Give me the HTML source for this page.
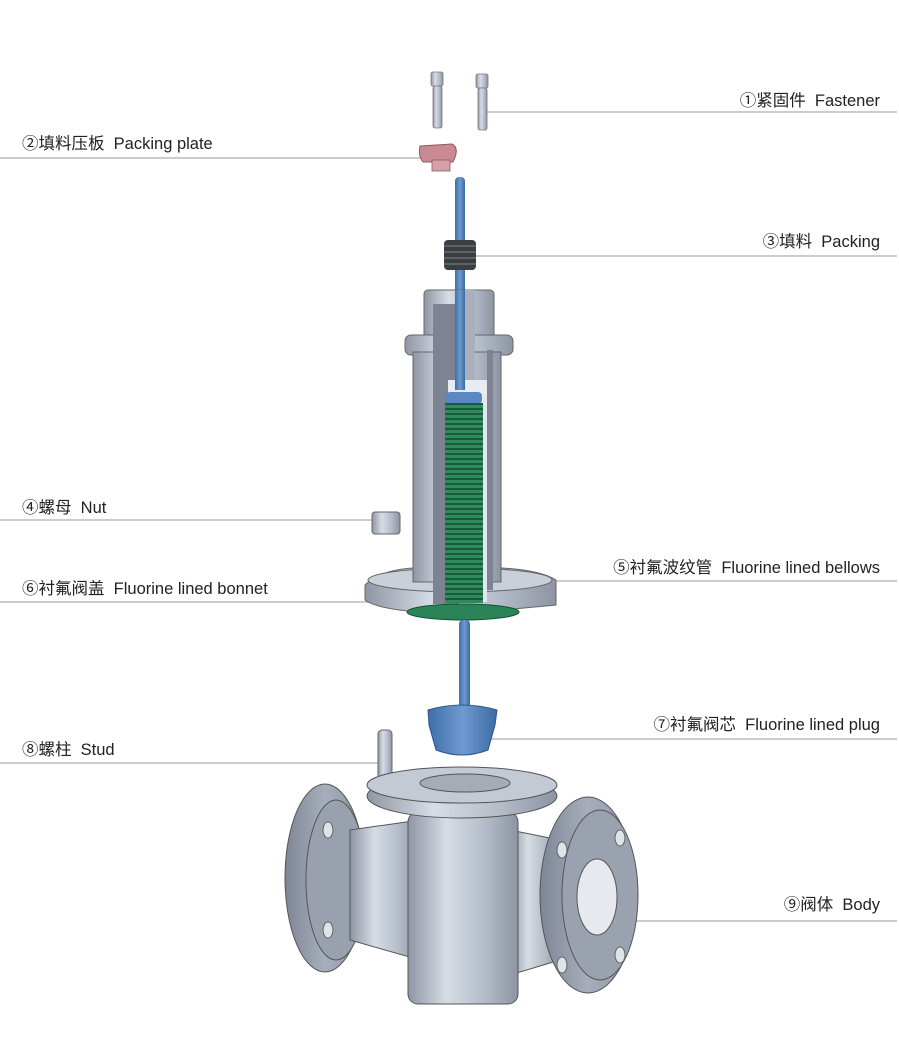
<!DOCTYPE html>
<html><head><meta charset="utf-8"><style>
html,body{margin:0;padding:0;background:#fff;width:899px;height:1053px;overflow:hidden}
svg{display:block}
text{font-family:"Liberation Sans","Noto Sans CJK SC",sans-serif;font-size:16.5px;fill:#222;white-space:pre}
</style></head><body>
<svg width="899" height="1053" viewBox="0 0 899 1053">
<defs>
<linearGradient id="metal" x1="0" x2="1" y1="0" y2="0">
<stop offset="0" stop-color="#8f96a4"/><stop offset="0.35" stop-color="#d6dde5"/><stop offset="0.7" stop-color="#b4bcc8"/><stop offset="1" stop-color="#8d94a2"/></linearGradient>
<linearGradient id="blue" x1="0" x2="1"><stop offset="0" stop-color="#3f6ea8"/><stop offset="0.5" stop-color="#6d9bd0"/><stop offset="1" stop-color="#3c6aa2"/></linearGradient>
<linearGradient id="flg" x1="0" x2="1"><stop offset="0" stop-color="#7e8595"/><stop offset="0.5" stop-color="#a7aebb"/><stop offset="1" stop-color="#8a91a0"/></linearGradient>
<pattern id="bel" width="8" height="5" patternUnits="userSpaceOnUse"><rect width="8" height="5" fill="#2f8a5c"/><rect y="3" width="8" height="2" fill="#185a3a"/></pattern>
</defs>
<!-- leader lines -->
<g stroke="#999" stroke-width="1">
<line x1="478" y1="112" x2="897" y2="112"/>
<line x1="0" y1="158" x2="440" y2="158"/>
<line x1="475" y1="256" x2="897" y2="256"/>
<line x1="0" y1="520" x2="372" y2="520"/>
<line x1="482" y1="581" x2="897" y2="581"/>
<line x1="0" y1="602" x2="395" y2="602"/>
<line x1="460" y1="739" x2="897" y2="739"/>
<line x1="0" y1="763" x2="380" y2="763"/>
<line x1="505" y1="921" x2="897" y2="921"/>
</g>
<!-- labels -->
<g xml:space="preserve">
<text x="880" y="106" text-anchor="end">①紧固件  Fastener</text>
<text x="22" y="149">②填料压板  Packing plate</text>
<text x="880" y="247" text-anchor="end">③填料  Packing</text>
<text x="22" y="513">④螺母  Nut</text>
<text x="880" y="573" text-anchor="end">⑤衬氟波纹管  Fluorine lined bellows</text>
<text x="22" y="594">⑥衬氟阀盖  Fluorine lined bonnet</text>
<text x="880" y="730" text-anchor="end">⑦衬氟阀芯  Fluorine lined plug</text>
<text x="22" y="755">⑧螺柱  Stud</text>
<text x="880" y="910" text-anchor="end">⑨阀体  Body</text>
</g>
<!-- fasteners -->
<g fill="url(#metal)" stroke="#777" stroke-width="0.8">
<rect x="431" y="72" width="12" height="14" rx="2"/><rect x="433" y="86" width="9" height="42" rx="2"/>
<rect x="476" y="74" width="12" height="14" rx="2"/><rect x="478" y="88" width="9" height="42" rx="2"/>
</g>
<!-- packing plate -->
<path d="M420 146 L452 144 Q460 148 453 162 L423 162 Q418 156 420 146Z" fill="#c98a94" stroke="#8d5a62"/>
<rect x="432" y="160" width="18" height="11" fill="#d7a0a8" stroke="#8d5a62" stroke-width="0.8"/>
<!-- stem -->
<rect x="455" y="177" width="10" height="220" rx="4" fill="url(#blue)"/>
<!-- bonnet -->
<g stroke="#666" stroke-width="1">
<rect x="424" y="290" width="70" height="56" rx="4" fill="url(#metal)"/>
<rect x="405" y="335" width="108" height="20" rx="6" fill="url(#metal)"/>
<rect x="413" y="352" width="88" height="222" fill="url(#metal)"/>
<path d="M365 585 L365 600 Q380 612 460 614 L556 605 L556 580 Q540 570 502 568 L413 568 Q380 570 365 585 Z" fill="url(#metal)"/>
<ellipse cx="460" cy="580" rx="92" ry="12" fill="#c9d0d9"/>
</g>
<rect x="413" y="352" width="88" height="230" fill="url(#metal)" stroke="#666"/>
<rect x="433" y="304" width="26" height="300" fill="#7d8392"/>
<rect x="459" y="290" width="16" height="90" fill="#a9b0bb"/>
<rect x="459" y="380" width="28" height="222" fill="#e4e8ee"/>
<rect x="487" y="350" width="6" height="240" fill="#7d8392"/>
<rect x="448" y="380" width="38" height="18" fill="#e8ecf1"/>
<rect x="455" y="290" width="10" height="100" fill="url(#blue)"/>
<rect x="446" y="392" width="36" height="12" rx="4" fill="#5b88c0"/>
<rect x="445" y="403" width="38" height="200" fill="url(#bel)"/>
<ellipse cx="463" cy="612" rx="56" ry="8" fill="#2a8458" stroke="#145236"/>
<!-- packing rings -->
<rect x="444" y="240" width="32" height="30" rx="4" fill="#3a3d42"/>
<g stroke="#777" stroke-width="1.2"><line x1="444" y1="246" x2="476" y2="246"/><line x1="444" y1="252" x2="476" y2="252"/><line x1="444" y1="258" x2="476" y2="258"/><line x1="444" y1="264" x2="476" y2="264"/></g>
<!-- nut -->
<rect x="372" y="512" width="28" height="22" rx="3" fill="url(#metal)" stroke="#666"/>
<!-- lower stem & plug -->
<rect x="459" y="620" width="11" height="92" rx="4" fill="url(#blue)"/>
<path d="M428 710 Q462 700 497 710 L495 725 L488 750 Q462 760 436 750 L429 725Z" fill="url(#blue)" stroke="#2f5688"/>
<!-- stud -->
<rect x="378" y="730" width="14" height="58" rx="4" fill="url(#metal)" stroke="#666"/>
<!-- body -->
<g stroke="#555" stroke-width="1">
<ellipse cx="325" cy="878" rx="40" ry="94" fill="url(#flg)"/>
<ellipse cx="336" cy="880" rx="30" ry="80" fill="#9aa1ae"/>
<path d="M350 830 L420 820 L420 960 L350 940Z" fill="url(#metal)"/>
<path d="M510 830 L560 840 L560 960 L510 975Z" fill="url(#metal)"/>
<rect x="408" y="812" width="110" height="192" rx="10" fill="url(#metal)"/>
<ellipse cx="462" cy="796" rx="95" ry="22" fill="url(#metal)"/>
<ellipse cx="462" cy="785" rx="95" ry="18" fill="#c3cad4"/>
<ellipse cx="465" cy="783" rx="45" ry="9" fill="#a5acb8"/>
<ellipse cx="588" cy="895" rx="48" ry="98" fill="url(#flg)"/>
<ellipse cx="600" cy="895" rx="38" ry="85" fill="#9ba2af"/>
<ellipse cx="597" cy="897" rx="20" ry="38" fill="#e6eaef"/>
</g>
<g fill="#dfe4ea" stroke="#666">
<ellipse cx="328" cy="830" rx="5" ry="8"/><ellipse cx="328" cy="930" rx="5" ry="8"/>
<ellipse cx="562" cy="850" rx="5" ry="8"/><ellipse cx="620" cy="838" rx="5" ry="8"/>
<ellipse cx="562" cy="965" rx="5" ry="8"/><ellipse cx="620" cy="955" rx="5" ry="8"/>
</g>
</svg>
</body></html>
